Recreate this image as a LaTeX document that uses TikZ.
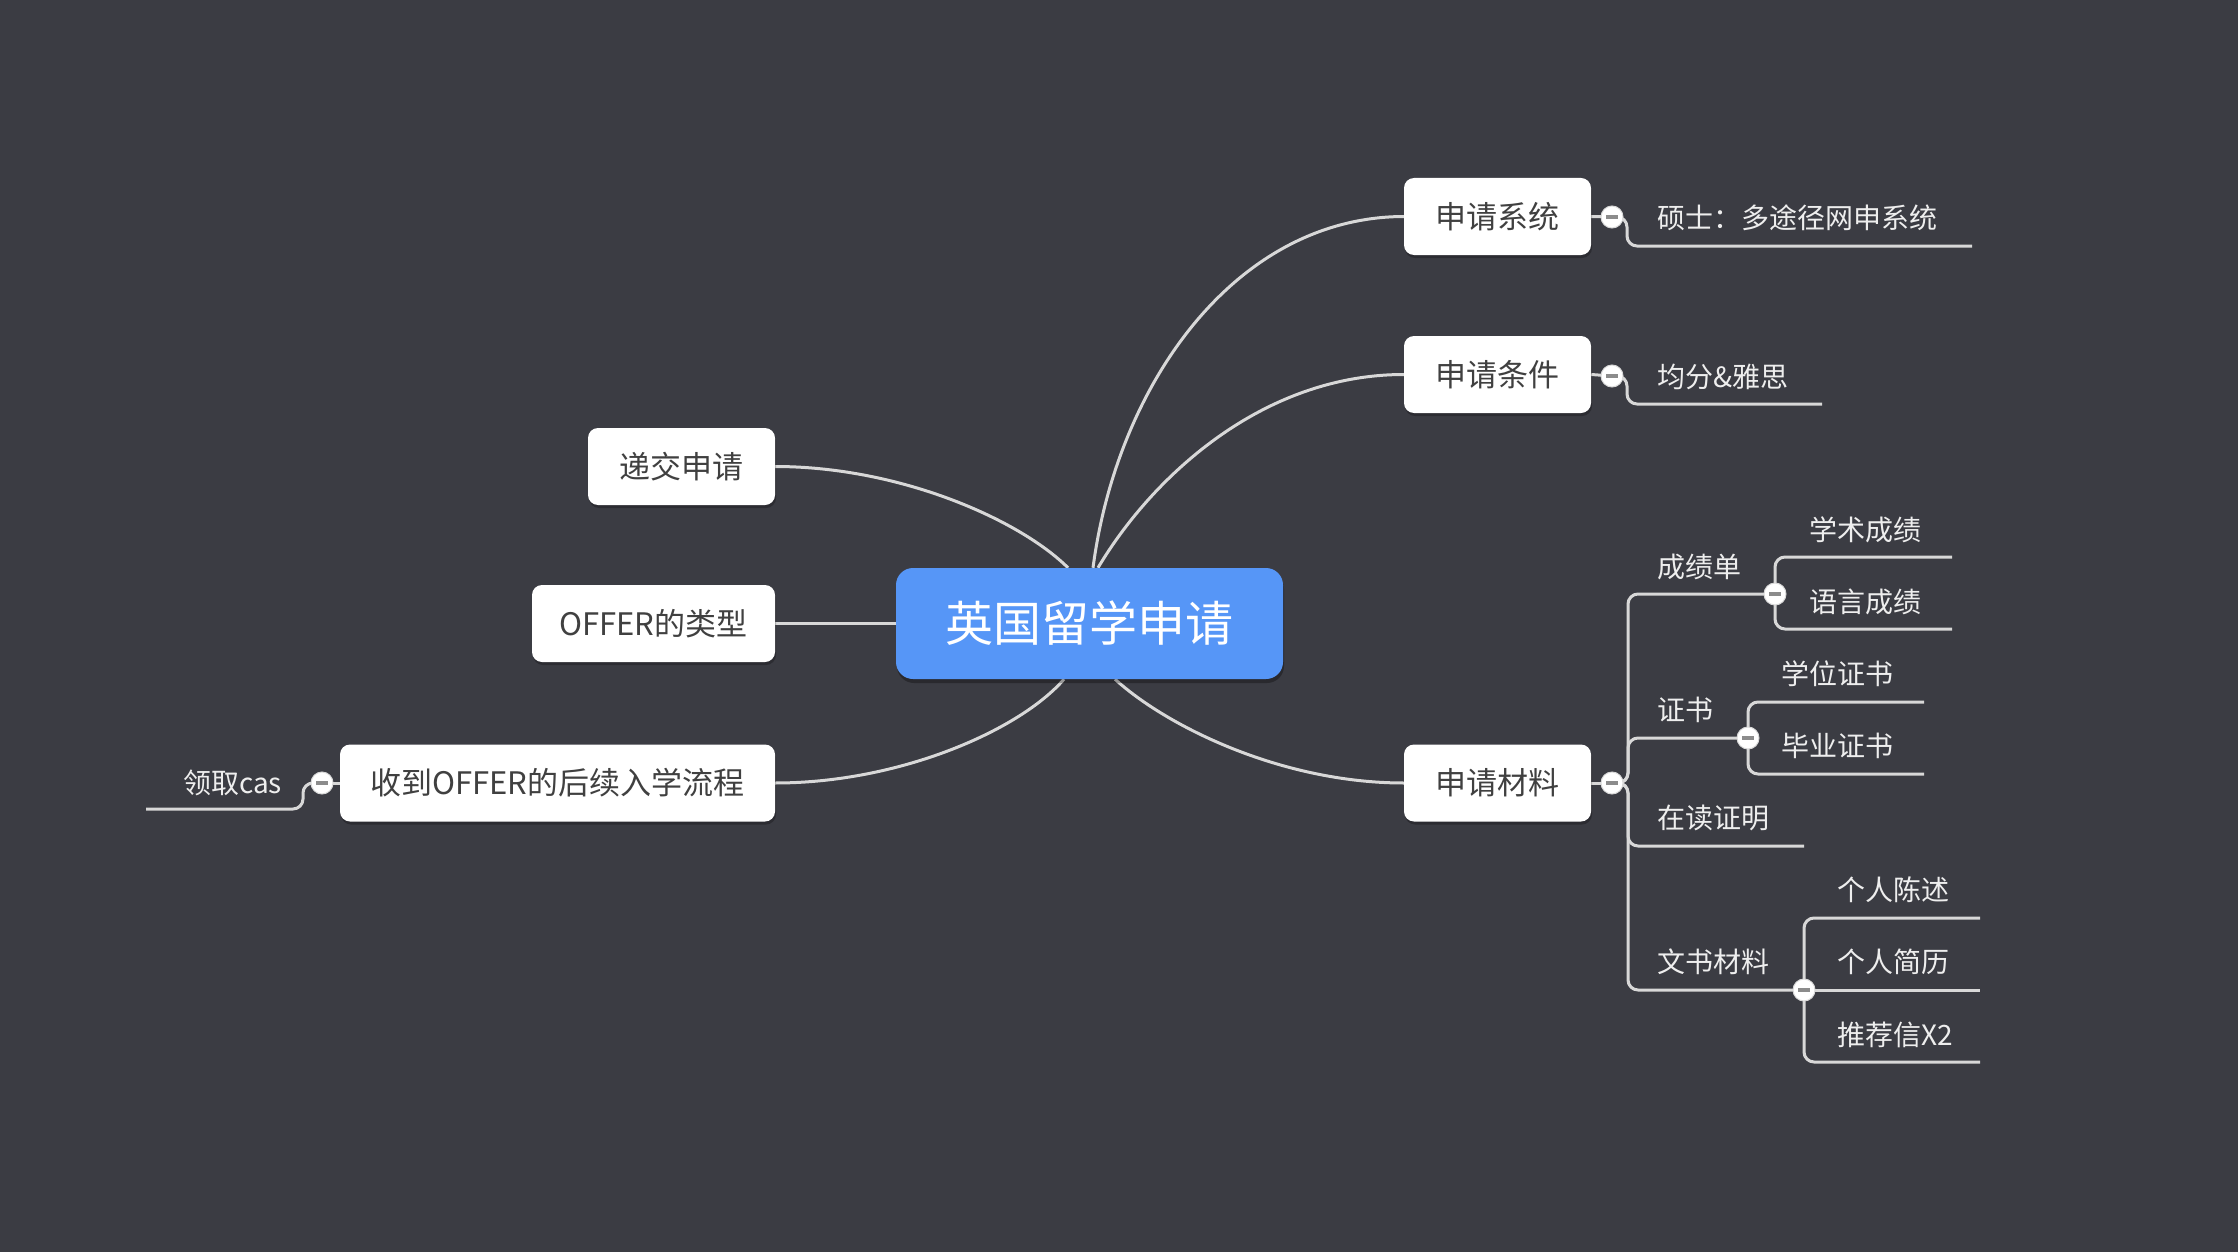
\documentclass[tikz,border=0pt]{standalone}
\usepackage{fontspec}
\setmainfont{Noto Sans CJK SC}
\usetikzlibrary{shadows}
\definecolor{bgc}{RGB}{59,60,67}
\definecolor{linec}{RGB}{216,216,216}
\definecolor{rootc}{RGB}{86,150,247}
\definecolor{topictext}{RGB}{64,64,64}
\definecolor{leaftext}{RGB}{238,238,238}
\definecolor{minusc}{RGB}{140,140,140}
\pgfdeclarelayer{bgl}
\pgfdeclarelayer{lnl}
\pgfsetlayers{bgl,lnl,main}
\tikzset{
  rootbox/.style={rectangle, rounded corners=17pt, fill=rootc, text=white,
    minimum width=387pt, minimum height=111pt, inner sep=0pt,
    font=\fontsize{48}{56}\selectfont,
    drop shadow={shadow xshift=1pt, shadow yshift=-4pt, opacity=0.3, fill=black}},
  topicbox/.style={rectangle, rounded corners=10pt, fill=white, text=topictext,
    minimum height=77pt, inner sep=0pt,
    font=\fontsize{31}{38}\selectfont,
    drop shadow={shadow xshift=1pt, shadow yshift=-3pt, opacity=0.25, fill=black}},
  leaftxt/.style={anchor=west, inner sep=0pt, text=leaftext,
    font=\fontsize{28}{34}\selectfont},
  coll/.style={circle, fill=white, draw=linec, line width=1pt, minimum size=22pt, inner sep=0pt,
    path picture={\draw[minusc, line width=3.5pt]
      ([xshift=-6pt]path picture bounding box.center) -- ([xshift=6pt]path picture bounding box.center);}},
  conn/.style={draw=linec, line width=3pt},
  elbow/.style={draw=linec, line width=3pt, rounded corners=10pt}
}
\begin{document}
\begin{tikzpicture}[x=1pt,y=-1pt]
\useasboundingbox (0,0) rectangle (2238,1252);
\begin{pgfonlayer}{bgl}
  \fill[bgc] (0,0) rectangle (2238,1252);
\end{pgfonlayer}

% main nodes
\node[rootbox] (c) at (1089.5,623.5) {英国留学申请};
\node[topicbox, minimum width=187pt] (sys) at (1497.5,216.5) {申请系统};
\node[topicbox, minimum width=187pt] (cond) at (1497.5,374.5) {申请条件};
\node[topicbox, minimum width=187pt] (mat) at (1497.5,783) {申请材料};
\node[topicbox, minimum width=187pt] (sub) at (681.5,466.5) {递交申请};
\node[topicbox, minimum width=243pt] (typ) at (653.5,623.5) {OFFER的类型};
\node[topicbox, minimum width=435pt] (fol) at (557.5,783) {收到OFFER的后续入学流程};

% collapse markers
\node[coll] (k1) at (1612,217) {};
\node[coll] (k2) at (1612,376) {};
\node[coll] (k3) at (1612,783) {};
\node[coll] (k4) at (322,783) {};
\node[coll] (k5) at (1775,594) {};
\node[coll] (k6) at (1748,738) {};
\node[coll] (k7) at (1804,990) {};

% leaf texts
\node[leaftxt] (t1) at (1657,218) {硕士：多途径网申系统};
\node[leaftxt] (t2) at (1657,377) {均分\&雅思};
\node[leaftxt] (t3) at (1657,567) {成绩单};
\node[leaftxt] (t4) at (1809,530) {学术成绩};
\node[leaftxt] (t5) at (1809,602) {语言成绩};
\node[leaftxt] (t6) at (1657,710) {证书};
\node[leaftxt] (t7) at (1781,674) {学位证书};
\node[leaftxt] (t8) at (1781,746) {毕业证书};
\node[leaftxt] (t9) at (1657,818) {在读证明};
\node[leaftxt] (t10) at (1657,962) {文书材料};
\node[leaftxt] (t11) at (1837,890) {个人陈述};
\node[leaftxt] (t12) at (1837,962) {个人简历};
\node[leaftxt] (t13) at (1837,1035) {推荐信X2};
\node[leaftxt] (t14) at (183,783) {领取cas};

% free ends of underlines
\coordinate (e1) at (1972,246);
\coordinate (e2) at (1822,404);
\coordinate (e3) at (1952,557);
\coordinate (e4) at (1952,629);
\coordinate (e5) at (1924,702);
\coordinate (e6) at (1924,774);
\coordinate (e7) at (1804,846);
\coordinate (e8) at (1980,918);
\coordinate (e9) at (1980,990);
\coordinate (e10) at (1980,1062);
\coordinate (e11) at (146,809);

\begin{pgfonlayer}{lnl}
  % curves from root
  \draw[conn] ([xshift=3.5pt]c.north) .. controls (1117,385) and (1235,217) .. (sys.west);
  \draw[conn] ([xshift=8.5pt]c.north) .. controls (1150,480) and (1260,374.5) .. (cond.west);
  \draw[conn] ([xshift=-21.5pt]c.north) .. controls (1020,520) and (900,466.5) .. (sub.east);
  \draw[conn] (c.west) -- (typ.east);
  \draw[conn] ([xshift=-25.5pt]c.south) .. controls (1020,730) and (900,783) .. (fol.east);
  \draw[conn] ([xshift=25.5pt]c.south) .. controls (1165,725) and (1280,783) .. (mat.west);

  % box to marker
  \draw[conn] (sys.east) -- (k1.center);
  \draw[conn] (cond.east) -- (k2.center);
  \draw[conn] (mat.east) -- (k3.center);
  \draw[conn] (fol.west) -- (k4.center);

  % elbows
  \draw[elbow] (k1.center) -- ++(15,0) |- (e1);
  \draw[elbow] (k2.center) -- ++(15,0) |- (e2);
  \draw[elbow] (k4.center) -- ++(-19,0) |- (e11);

  \draw[elbow] (k3.center) -- ++(16,0) |- (k5.center);
  \draw[elbow] (k3.center) -- ++(16,0) |- (k6.center);
  \draw[elbow] (k3.center) -- ++(16,0) |- (e7);
  \draw[elbow] (k3.center) -- ++(16,0) |- (k7.center);

  \draw[elbow] (k5.center) |- (e3);
  \draw[elbow] (k5.center) |- (e4);
  \draw[elbow] (k6.center) |- (e5);
  \draw[elbow] (k6.center) |- (e6);
  \draw[elbow] (k7.center) |- (e8);
  \draw[conn] (k7.center) -- (e9);
  \draw[elbow] (k7.center) |- (e10);
\end{pgfonlayer}
\end{tikzpicture}
\end{document}
